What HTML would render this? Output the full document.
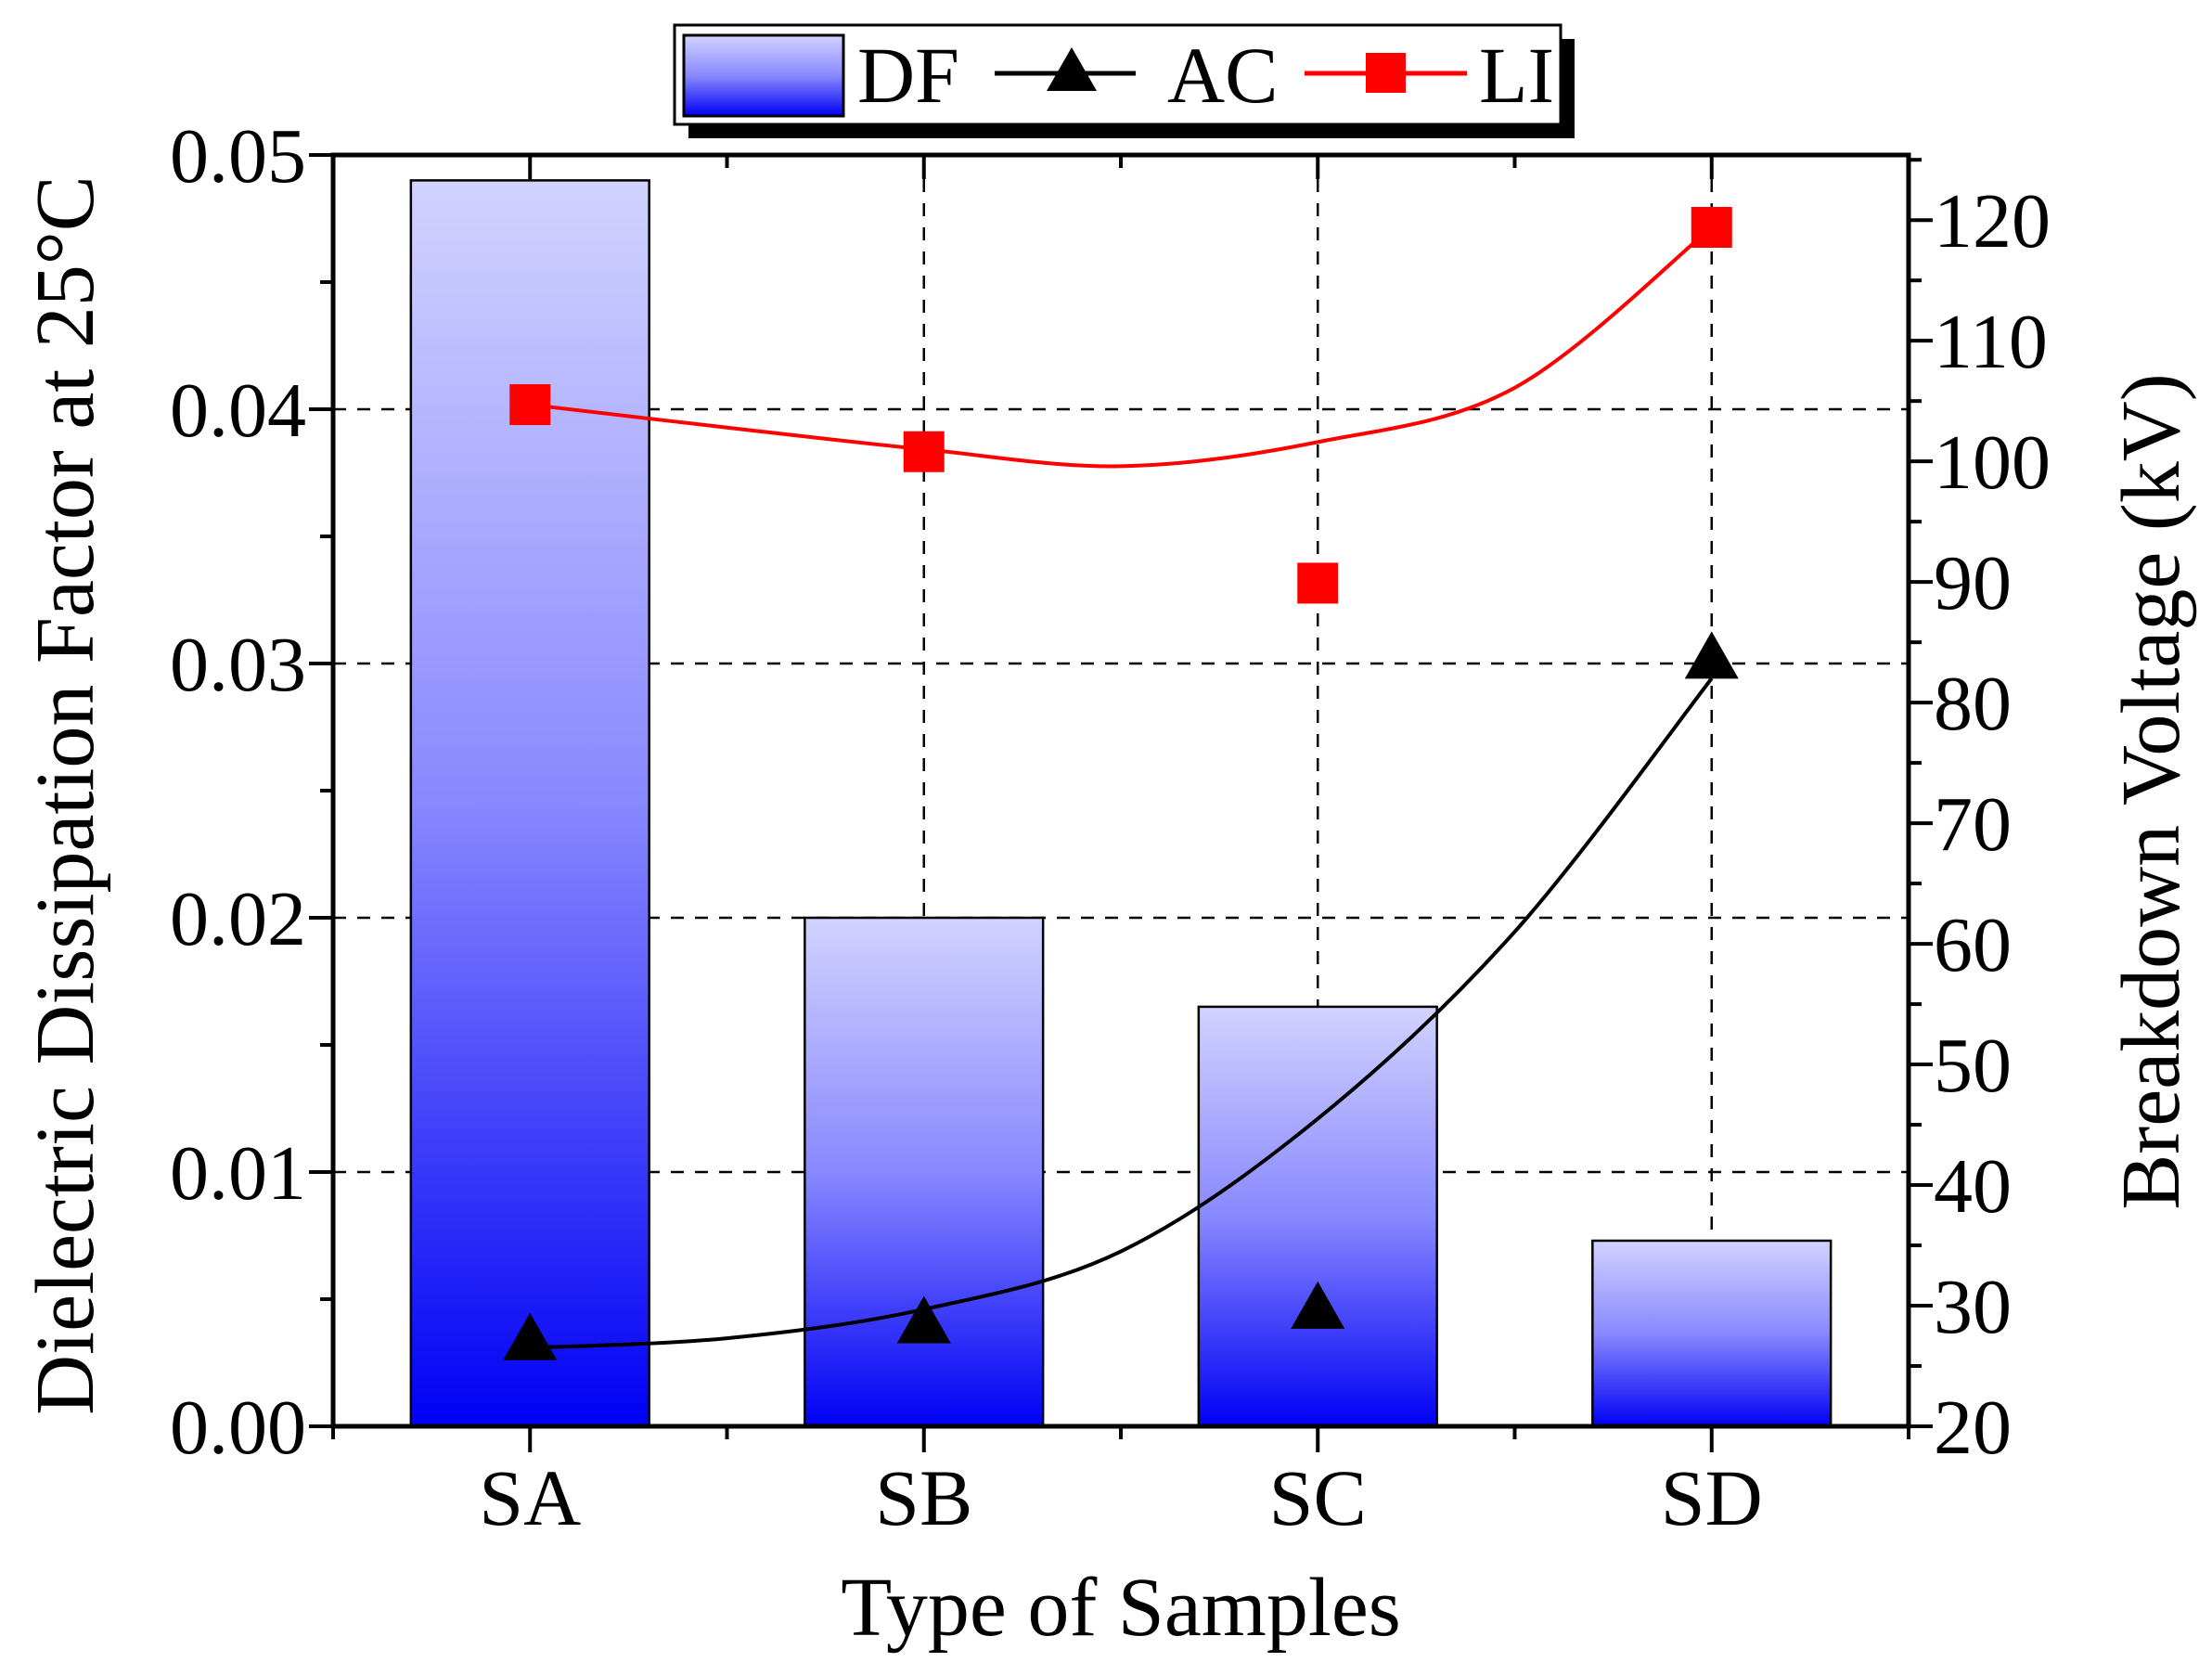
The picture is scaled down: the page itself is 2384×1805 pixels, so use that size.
<!DOCTYPE html>
<html><head><meta charset="utf-8"><style>
html,body{margin:0;padding:0;background:#fff;}
svg{display:block;font-family:"Liberation Serif",serif;}
</style></head><body>
<svg id="chart" width="2384" height="1805" viewBox="0 0 2384 1805" xmlns="http://www.w3.org/2000/svg">
<defs>
<linearGradient id="barGrad" x1="0" y1="0" x2="0" y2="1">
<stop offset="0" stop-color="#d2d2ff"/><stop offset="0.5" stop-color="#8888ff"/><stop offset="1" stop-color="#0000f5"/>
</linearGradient>
</defs>
<g id="grid"></g>
<g id="bars"></g>
<g id="lines"></g>
<g id="marks"></g>
<g id="axes"></g>
<text x="1208" y="1762" font-size="90" text-anchor="middle">Type of Samples</text>
<text transform="translate(100,857) rotate(-90)" font-size="90" text-anchor="middle">Dielectric Dissipation Factor at 25°C</text>
<text transform="translate(2348,853) rotate(-90)" font-size="90" text-anchor="middle">Breakdown Voltage (kV)</text>
<g>
<rect x="742" y="42" width="955" height="107" fill="#000"/>
<rect x="727" y="27" width="955" height="107" fill="#fff" stroke="#000" stroke-width="3"/>
<rect x="737" y="38" width="172" height="87" fill="url(#barGrad)" stroke="#000" stroke-width="3"/>
<text x="924" y="110" font-size="86">DF</text>
<line x1="1072" y1="79" x2="1224" y2="79" stroke="#000" stroke-width="5"/>
<polygon points="1155,51 1128,98 1182,98" fill="#000"/>
<text x="1258" y="110" font-size="86">AC</text>
<line x1="1406" y1="79" x2="1581" y2="79" stroke="#f00" stroke-width="5"/>
<rect x="1472" y="57" width="43" height="43" fill="#f00"/>
<text x="1594" y="110" font-size="86">LI</text>
</g>
</svg>
<script>
const categories=["SA","SB","SC","SD"];
const dfValues=[0.049,0.020,0.0165,0.0073];
const acValues=[27.1,28.5,29.7,83.6];
const liValues=[104.7,100.8,89.9,119.4];
const fitX=[1,1.5,2,2.5,3,3.5,4];
const acFit=[26.5,27.3,29.7,34.5,45.5,61,82];
const liFit=[104.7,102.8,101,99.6,101.6,106.1,119.4];
const leftTicks=["0.00","0.01","0.02","0.03","0.04","0.05"];
const leftTickVals=[0,0.01,0.02,0.03,0.04,0.05];
const rightTickVals=[20,30,40,50,60,70,80,90,100,110,120];

const L=359,R=2057,T=167,B=1537;
const xs=v=>L+(v-0.5)/4*(R-L);
const yl=v=>B-v/0.05*(B-T);
const yr=v=>B-(v-20)/(125.4-20)*(B-T);
const NS="http://www.w3.org/2000/svg";
function mk(parent,tag,attrs){const e=document.createElementNS(NS,tag);for(const k in attrs)e.setAttribute(k,attrs[k]);document.getElementById(parent).appendChild(e);return e;}

categories.forEach((c,i)=>{const g=mk('grid','line',{x1:xs(i+1),x2:xs(i+1),y1:T,y2:B,stroke:'#000','stroke-width':2.5,'stroke-dasharray':'14,12'});

});
leftTickVals.slice(1,5).forEach(v=>{const g=mk('grid','line',{x1:L,x2:R,y1:yl(v),y2:yl(v),stroke:'#000','stroke-width':2.5,'stroke-dasharray':'14,12'});

});

const bw=0.605*(R-L)/4;
dfValues.forEach((v,i)=>{const b=mk('bars','rect',{x:xs(i+1)-bw/2,y:yl(v),width:bw,height:B-yl(v),fill:'url(#barGrad)',stroke:'#000','stroke-width':2.5});

});

function smooth(px,py){let d=`M${px[0]},${py[0]}`;for(let i=0;i<px.length-1;i++){const x0=px[Math.max(i-1,0)],y0=py[Math.max(i-1,0)],x1=px[i],y1=py[i],x2=px[i+1],y2=py[i+1],x3=px[Math.min(i+2,px.length-1)],y3=py[Math.min(i+2,px.length-1)];
d+=` C${x1+(x2-x0)/6},${y1+(y2-y0)/6} ${x2-(x3-x1)/6},${y2-(y3-y1)/6} ${x2},${y2}`;}return d;}
const fx=fitX.map(xs);
const acp=mk('lines','path',{d:smooth(fx,acFit.map(yr)),fill:'none',stroke:'#000','stroke-width':4});


const lip=mk('lines','path',{d:smooth(fx,liFit.map(yr)),fill:'none',stroke:'#f00','stroke-width':4});



acValues.forEach((v,i)=>{const x=xs(i+1),y=yr(v);const p=mk('marks','polygon',{points:`${x},${y-30} ${x-29},${y+21} ${x+29},${y+21}`,fill:'#000'});

});
liValues.forEach((v,i)=>{const x=xs(i+1),y=yr(v);const p=mk('marks','rect',{x:x-22,y:y-22,width:44,height:44,fill:'#f00'});

});

const f=mk('axes','rect',{x:L,y:T,width:R-L,height:B-T,fill:'none',stroke:'#000','stroke-width':5});


for(let k=0;k<=10;k++){const v=k*0.005,y=yl(v),len=k%2?14:26;
mk('axes','line',{x1:L-len,x2:L,y1:y,y2:y,stroke:'#000','stroke-width':4});}
leftTickVals.forEach((v,i)=>{const t=mk('axes','text',{x:330,y:yl(v)+29,'font-size':84,'text-anchor':'end'});t.textContent=leftTicks[i];

});
for(let v=20;v<=125;v+=5){const y=yr(v),len=(v%10)?14:26;
mk('axes','line',{x1:R,x2:R+len,y1:y,y2:y,stroke:'#000','stroke-width':4});}
rightTickVals.forEach(v=>{const t=mk('axes','text',{x:2084,y:yr(v)+29,'font-size':84});t.textContent=v;

});
for(let k=0;k<=8;k++){const x=xs(0.5+k*0.5),major=k%2===1;
mk('axes','line',{x1:x,x2:x,y1:B,y2:B+(major?28:14),stroke:'#000','stroke-width':4});
mk('axes','line',{x1:x,x2:x,y1:T,y2:T+(major?26:14),stroke:'#000','stroke-width':4});}
categories.forEach((c,i)=>{const t=mk('axes','text',{x:xs(i+1),y:1643,'font-size':86,'text-anchor':'middle'});t.textContent=c;

});
</script>
</body></html>
